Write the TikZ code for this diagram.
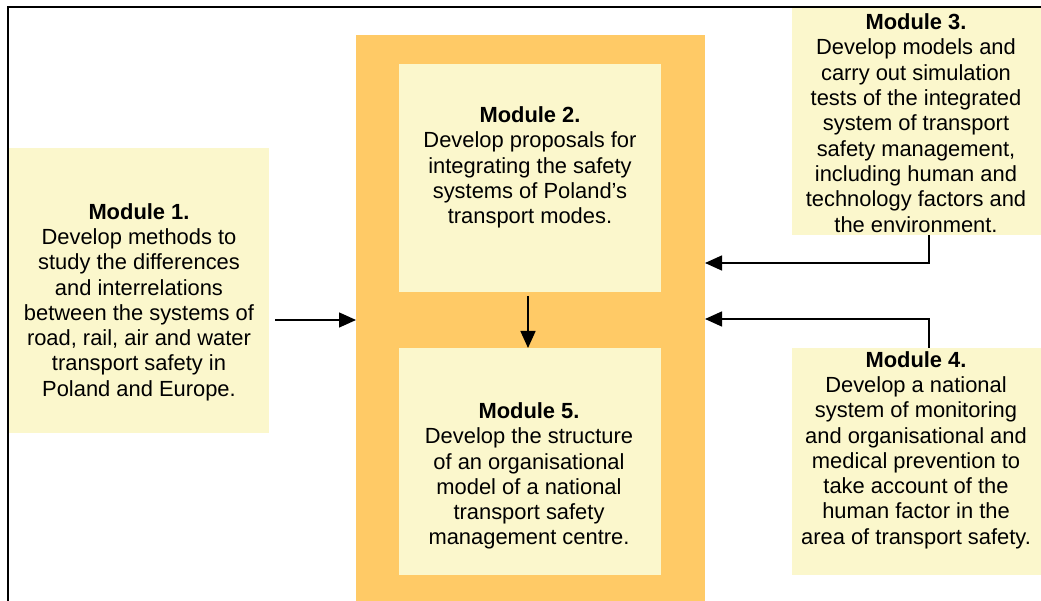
\documentclass[tikz,border=0pt]{standalone}
\usepackage{fontspec}
\setmainfont{Liberation Sans}
\usetikzlibrary{arrows.meta}
\definecolor{orng}{HTML}{FFCA66}
\definecolor{pale}{HTML}{FBF7CC}
\begin{document}
\begin{tikzpicture}[x=1pt,y=-1pt,
  box/.style={fill=pale,draw=none,inner sep=0pt,outer sep=0pt},
  bigbox/.style={fill=orng,draw=none,inner sep=0pt,outer sep=0pt},
  txt/.style={align=center,inner sep=0pt,font=\fontsize{21.9}{25.3}\selectfont},
  arr/.style={line width=1.5pt,-{Triangle[length=17pt,width=15pt]}},
  frame/.style={line width=2.2pt}]
\useasboundingbox (0,0) rectangle (1041,601);
% frame
\coordinate (fa) at (8,601);
\coordinate (fb) at (8,7);
\coordinate (fc) at (1041,7);
\draw[frame] (fa) -- (fb) -- (fc);
% big orange box
\node[bigbox,minimum width=349pt,minimum height=566pt] (big) at (530.5,318) {};
% boxes
\node[box,minimum width=260pt,minimum height=285pt] (m1) at (139,290.5) {};
\node[box,minimum width=262pt,minimum height=228pt] (m2) at (530,178) {};
\node[box,minimum width=262pt,minimum height=227pt] (m5) at (530,461.5) {};
\node[box,minimum width=249pt,minimum height=227pt] (m3) at (916.5,121.5) {};
\node[box,minimum width=249pt,minimum height=227pt] (m4) at (916.5,461.5) {};
% texts
\node[txt] (t1) at (139,302) {\textbf{Module 1.}\\Develop methods to\\study the differences\\and interrelations\\between the systems of\\road, rail, air and water\\transport safety in\\Poland and Europe.};
\node[txt] (t2) at (530,167.5) {\textbf{Module 2.}\\Develop proposals for\\integrating the safety\\systems of Poland’s\\transport modes.};
\node[txt] (t3) at (916,123) {\textbf{Module 3.}\\Develop models and\\carry out simulation\\tests of the integrated\\system of transport\\safety management,\\including human and\\technology factors and\\the environment.};
\node[txt] (t4) at (916,450) {\textbf{Module 4.}\\Develop a national\\system of monitoring\\and organisational and\\medical prevention to\\take account of the\\human factor in the\\area of transport safety.};
\node[txt] (t5) at (529,476) {\textbf{Module 5.}\\Develop the structure\\of an organisational\\model of a national\\transport safety\\management centre.};
% connectors
\coordinate (c1) at (275,320);
\draw[arr] (c1) -- (big.west |- c1);
\coordinate (c3) at (929,263);
\draw[arr] (m3.south -| c3) |- (big.east |- c3);
\coordinate (c4) at (929,319);
\draw[arr] (m4.north -| c4) |- (big.east |- c4);
\coordinate (c25) at (528,296);
\draw[arr] (c25) -- (c25 |- m5.north);
\end{tikzpicture}
\end{document}
